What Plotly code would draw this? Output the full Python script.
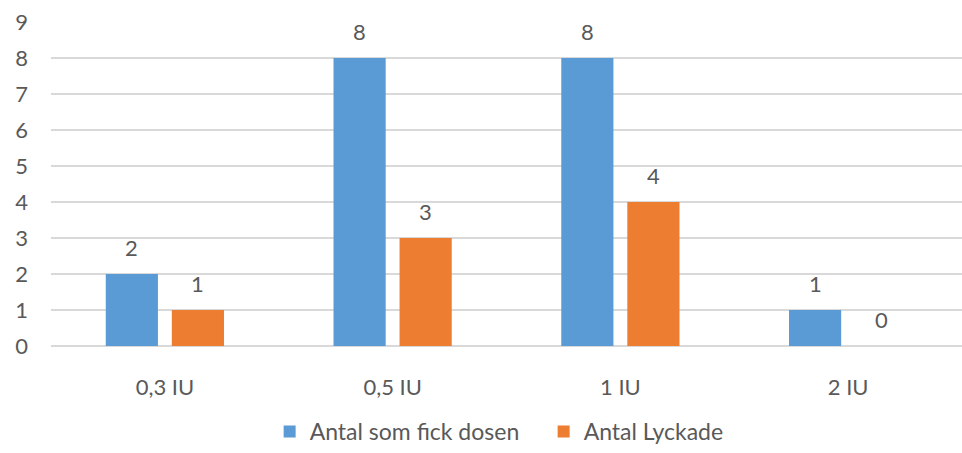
import plotly.graph_objects as go

categories = ["0,3 IU", "0,5 IU", "1 IU", "2 IU"]
series_names = ["Antal som fick dosen", "Antal Lyckade"]
fick_dosen = [2, 8, 8, 1]
lyckade = [1, 3, 4, 0]
y_ticks = list(range(0, 10))

colors = ["#5B9BD5", "#ED7D31"]
font_family = "Lato, Open Sans, sans-serif"
text_color = "#595959"
fs = 22

fig = go.Figure()
for name, vals, col in zip(series_names, [fick_dosen, lyckade], colors):
    fig.add_trace(go.Bar(x=categories, y=vals, name=name, marker_color=col,
                         marker_line_width=0))

annotations = []
for vals, shift in [(fick_dosen, -33), (lyckade, 33)]:
    for c, v in zip(categories, vals):
        annotations.append(dict(x=c, y=v, xref="x", yref="y", text=str(v),
                                showarrow=False, xshift=shift, yshift=27,
                                yanchor="middle",
                                font=dict(size=fs, color=text_color, family=font_family)))

fig.update_layout(
    width=962, height=453,
    margin=dict(l=51, r=0, t=22, b=103),
    paper_bgcolor="white", plot_bgcolor="white",
    barmode="group", bargap=0.42, bargroupgap=0.21,
    font=dict(family=font_family, size=fs, color=text_color),
    annotations=annotations,
    showlegend=True,
    legend=dict(orientation="h", x=0.24, xanchor="left", y=-0.265, yanchor="middle",
                font=dict(size=23, color=text_color), itemwidth=30,
                entrywidth=229, entrywidthmode="pixels",
                tracegroupgap=0),
    xaxis=dict(showgrid=False, showline=False, ticks="", ticklabelstandoff=26,
               automargin=False, tickfont=dict(size=fs, color=text_color)),
    yaxis=dict(range=[0, 9], tickvals=y_ticks, showgrid=True, gridcolor="#d9d9d9",
               gridwidth=1.5, zeroline=True, zerolinecolor="#d9d9d9", zerolinewidth=1.5,
               showline=False, ticks="", ticklabelstandoff=22, automargin=False,
               tickfont=dict(size=fs, color=text_color)),
)

fig.write_html("out.html", config={"displayModeBar": False},
               post_script="document.body.style.margin='0';document.body.style.overflow='hidden';")
